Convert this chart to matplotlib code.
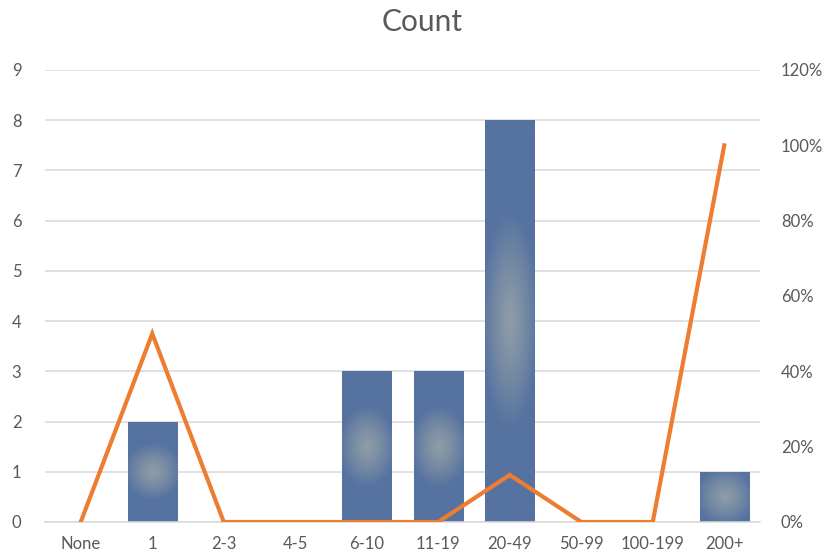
import numpy as np
import matplotlib
matplotlib.use("Agg")
from matplotlib import pyplot as plt
from matplotlib.ticker import PercentFormatter

plt.rcParams['font.family'] = ['Lato', 'DejaVu Sans']

categories = ["None", "1", "2-3", "4-5", "6-10", "11-19", "20-49", "50-99", "100-199", "200+"]
counts = [0, 2, 0, 0, 3, 3, 8, 0, 0, 1]
share = [0, 0.50, 0, 0, 0, 0, 0.125, 0, 0, 1.0]

text_col = "#595959"
grid_col = "#D9D9D9"
edge_rgb = np.array([0x56, 0x72, 0xA0]) / 255
center_rgb = np.array([0x8E, 0x9D, 0xA6]) / 255

fig = plt.figure(figsize=(8.29, 5.58), dpi=100)
ax = fig.add_axes([45 / 829, 36 / 558, 715 / 829, 452 / 558])

x = np.arange(len(categories))
bw = 0.69
bars = ax.bar(x, counts, width=bw, color=edge_rgb, zorder=2)

# radial shading like the Excel fill (pixel sizes)
px_per_cat = 715 / len(categories)
for b, h in zip(bars, counts):
    if h == 0:
        continue
    x0 = b.get_x()
    wpx = bw * px_per_cat
    hpx = h * 452 / 9
    nx, ny = int(wpx), int(hpx)
    yy, xx = np.mgrid[0:ny, 0:nx]
    dx = (xx + 0.5) - wpx / 2
    dy = (yy + 0.5) - hpx / 2
    rx = wpx / 2 * 1.15
    ry = max(rx, 0.27 * hpx)
    r = np.clip(np.sqrt((dx / rx) ** 2 + (dy / ry) ** 2), 0, 1)
    t = r[..., None] ** 1.2
    img = center_rgb * (1 - t) + edge_rgb * t
    im = ax.imshow(img, extent=[x0, x0 + bw, 0, h], aspect='auto', origin='lower',
                   zorder=2.5, interpolation='bilinear')
    im.set_clip_path(b)

ax.set_xlim(-0.5, len(categories) - 0.5)
ax.set_ylim(0, 9)
ax.set_yticks(range(0, 10))
ax.set_xticks(x)
ax.set_xticklabels(categories)
ax.grid(axis='y', color=grid_col, linewidth=1.1, zorder=0)
ax.set_axisbelow(True)
for s in ["top", "right", "left"]:
    ax.spines[s].set_visible(False)
ax.spines["bottom"].set_color(grid_col)
ax.spines["bottom"].set_linewidth(1.1)
ax.tick_params(axis='both', length=0, colors=text_col, labelsize=12)
ax.tick_params(axis='y', pad=17)
ax.tick_params(axis='x', pad=10)

ax2 = ax.twinx()
ax2.plot(x, share, color="#ED7D31", linewidth=3, solid_joinstyle='miter', zorder=3)
ax2.set_ylim(0, 1.2)
ax2.set_yticks(np.arange(0, 1.21, 0.2))
ax2.yaxis.set_major_formatter(PercentFormatter(1.0, decimals=0))
for s in ["top", "right", "left", "bottom"]:
    ax2.spines[s].set_visible(False)
ax2.tick_params(axis='y', length=0, colors=text_col, labelsize=12, pad=15)

fig.text(422 / 829, 1 - 22 / 558, "Count", ha='center', va='center',
         fontsize=21.5, color=text_col)

fig.savefig("out.png", dpi=100)
